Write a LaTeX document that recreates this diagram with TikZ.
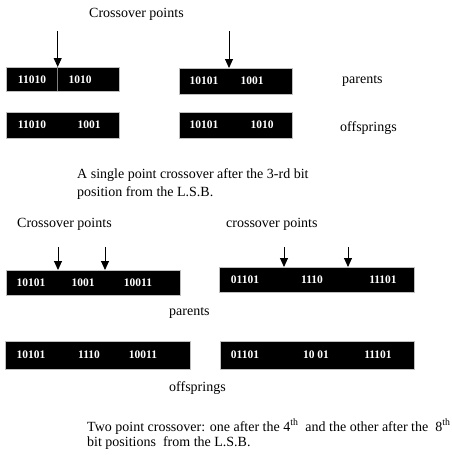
\documentclass[tikz,border=0pt]{standalone}
\usepackage{fontspec}
\setmainfont{Liberation Serif}
\usetikzlibrary{arrows.meta}
\begin{document}
\begin{tikzpicture}[x=1pt,y=-1pt,
  bar/.style={fill=black,draw=gray!50,line width=0.6pt,inner sep=0pt,anchor=north west},
  bits/.style={text=white,font=\fontsize{11.5}{13}\selectfont\bfseries,inner sep=0pt},
  lbl/.style={font=\fontsize{14}{16}\selectfont,inner sep=0pt,anchor=west},
  captxt/.style={font=\fontsize{14}{16}\selectfont,inner sep=0pt,anchor=base west},
  arr/.style={line width=0.9pt,-{Triangle[width=8pt,length=9pt]}}]
\useasboundingbox (0,0) rectangle (452,455);
% ---------- single point ----------
\node[lbl] (cp1) at (89,14) {Crossover points};
\node[bar,minimum width=113,minimum height=24] (b1) at (6,67) {};
\node[bar,minimum width=113,minimum height=26] (b2) at (179,68) {};
\node[bar,minimum width=113,minimum height=26] (b3) at (6,112) {};
\node[bar,minimum width=113,minimum height=26] (b4) at (179,112) {};
\coordinate (d1t) at (57.7,67);
\coordinate (d1b) at (57.7,91);
\draw[gray,line width=0.6pt] (d1t) -- (d1b);
\coordinate (a1s) at (57.7,31);
\coordinate (a2s) at (229,31);
\coordinate (a2e) at (229,68);
\draw[arr] (a1s) -- (d1t);
\draw[arr] (a2s) -- (a2e);
\node[bits] (t11) at (32,80) {11010};
\node[bits] (t12) at (80,80) {1010};
\node[bits] (t21) at (204,81) {10101};
\node[bits] (t22) at (252,81) {1001};
\node[bits] (t31) at (32,125) {11010};
\node[bits] (t32) at (89,125) {1001};
\node[bits] (t41) at (204,125) {10101};
\node[bits] (t42) at (262,125) {1010};
\node[lbl] (par1) at (342,81) {parents};
\node[lbl] (off1) at (340,128) {offsprings};
\node[captxt] (c1a) at (77,178) {A single point crossover after the 3-rd bit};
\node[captxt] (c1b) at (77,196) {position from the L.S.B.};
% ---------- two point ----------
\node[lbl] (cp2) at (17,224) {Crossover points};
\node[lbl] (cp3) at (226,224) {crossover points};
\node[bar,minimum width=174,minimum height=25] (b5) at (6,270) {};
\node[bar,minimum width=195,minimum height=25] (b6) at (219,267) {};
\node[bar,minimum width=185,minimum height=28] (b7) at (5,341) {};
\node[bar,minimum width=194,minimum height=28] (b8) at (220,341) {};
\coordinate (a3s) at (58,247);  \coordinate (a3e) at (58,270);
\coordinate (a4s) at (105,247); \coordinate (a4e) at (105,270);
\coordinate (a5s) at (284,247); \coordinate (a5e) at (284,267);
\coordinate (a6s) at (348,247); \coordinate (a6e) at (348,267);
\draw[arr] (a3s) -- (a3e);
\draw[arr] (a4s) -- (a4e);
\draw[arr] (a5s) -- (a5e);
\draw[arr] (a6s) -- (a6e);
\node[bits] (t51) at (31,283) {10101};
\node[bits] (t52) at (83,283) {1001};
\node[bits] (t53) at (138,283) {10011};
\node[bits] (t61) at (245,280) {01101};
\node[bits] (t62) at (312,280) {1110};
\node[bits] (t63) at (383,280) {11101};
\node[bits] (t71) at (31,355) {10101};
\node[bits] (t72) at (89,355) {1110};
\node[bits] (t73) at (143,355) {10011};
\node[bits] (t81) at (245,355) {01101};
\node[bits] (t82) at (316,355) {10 01};
\node[bits] (t83) at (378,355) {11101};
\node[lbl] (par2) at (169,313) {parents};
\node[lbl] (off2) at (169,388) {offsprings};
\node[captxt] (c2a) at (87,431) {Two point crossover: one after the 4\textsuperscript{th}\ \ and the other after the\ \ 8\textsuperscript{th}};
\node[captxt] (c2b) at (87,446) {bit positions\ \ from the L.S.B.};
\end{tikzpicture}
\end{document}
